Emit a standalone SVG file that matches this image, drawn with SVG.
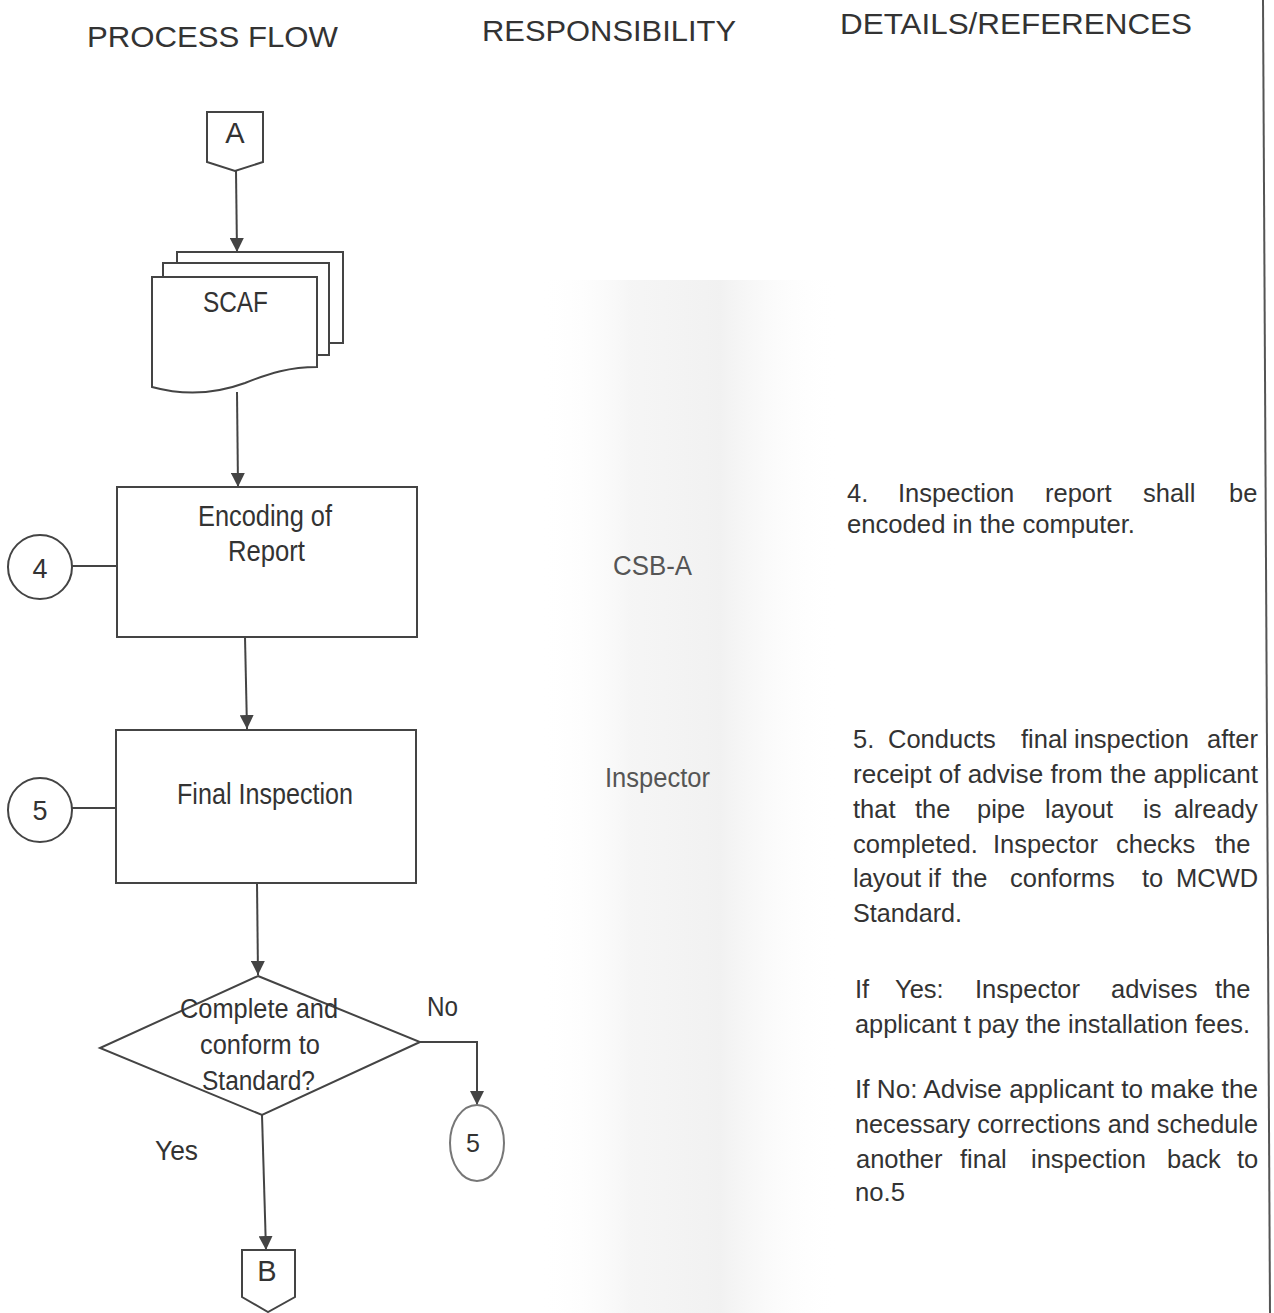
<svg xmlns="http://www.w3.org/2000/svg" width="1274" height="1313" viewBox="0 0 1274 1313">
  <defs>
    <linearGradient id="scan" x1="0" y1="0" x2="1" y2="0">
      <stop offset="0" stop-color="#ffffff" stop-opacity="0"/>
      <stop offset="0.3" stop-color="#ececec" stop-opacity="0.5"/>
      <stop offset="0.6" stop-color="#e8e8e8" stop-opacity="0.6"/>
      <stop offset="1" stop-color="#ffffff" stop-opacity="0"/>
    </linearGradient>
    <marker id="arr" markerWidth="14" markerHeight="14" refX="14" refY="7" orient="auto" markerUnits="userSpaceOnUse">
      <path d="M0,0 L14,7 L0,14 z" fill="#444"/>
    </marker>
    <style>
      .shape { fill: #ffffff; stroke: #444; stroke-width: 2; }
      .conn { fill: none; stroke: #444; stroke-width: 2; }
      .t { font-family: "Liberation Sans", Arial, sans-serif; fill: #333; }
      .hdr { font-size: 29px; }
      .lbl { font-size: 29px; }
      .mid { text-anchor: middle; }
      .body { font-size: 25.5px; }
      .resp { font-size: 27px; fill: #555; }
    </style>
  </defs>

  <rect x="0" y="0" width="1274" height="1313" fill="#ffffff"/>
  <rect x="540" y="280" width="300" height="1033" fill="url(#scan)"/>
  <line x1="1263" y1="0" x2="1270" y2="1313" stroke="#555" stroke-width="2"/>

  <!-- Headers -->
  <g id="headers">
    <text class="t hdr" x="87" y="47" textLength="251" lengthAdjust="spacingAndGlyphs">PROCESS FLOW</text>
    <text class="t hdr" x="482" y="41" textLength="254" lengthAdjust="spacingAndGlyphs">RESPONSIBILITY</text>
    <text class="t hdr" x="840" y="34" textLength="352" lengthAdjust="spacingAndGlyphs">DETAILS/REFERENCES</text>
  </g>

  <!-- Connectors -->
  <g id="connectors">
    <path class="conn" d="M236,171 L237,252" marker-end="url(#arr)"/>
    <path class="conn" d="M237,392 L238,487" marker-end="url(#arr)"/>
    <path class="conn" d="M245,637 L247,729" marker-end="url(#arr)"/>
    <path class="conn" d="M257,883 L258,975" marker-end="url(#arr)"/>
    <path class="conn" d="M420,1042 L477,1042 L477,1105" marker-end="url(#arr)"/>
    <path class="conn" d="M262,1115 L266,1250" marker-end="url(#arr)"/>
    <path class="conn" d="M72,566 L117,566"/>
    <path class="conn" d="M72,808 L116,808"/>
  </g>

  <g id="node-A">
    <path class="shape" d="M207,112 L263,112 L263,162 L235,171 L207,162 Z"/>
    <text class="t lbl mid" x="235" y="143" font-size="31">A</text>
  </g>

  <g id="node-SCAF">
    <rect class="shape" x="177" y="252" width="166" height="91"/>
    <rect class="shape" x="163" y="263" width="166" height="92"/>
    <path class="shape" d="M152,277 L317,277 L317,367 C290,367 270,373 245,383 C215,394 185,396 152,387 Z"/>
    <text class="t lbl" x="203" y="312" textLength="65" lengthAdjust="spacingAndGlyphs">SCAF</text>
  </g>

  <g id="node-encoding">
    <rect class="shape" x="117" y="487" width="300" height="150"/>
    <text class="t lbl" x="198" y="526" textLength="134" lengthAdjust="spacingAndGlyphs">Encoding of</text>
    <text class="t lbl" x="228" y="561" textLength="77" lengthAdjust="spacingAndGlyphs">Report</text>
  </g>

  <g id="node-c4">
    <circle class="shape" cx="40" cy="567" r="32"/>
    <text class="t mid" x="40" y="578" font-size="27">4</text>
  </g>

  <g id="node-final">
    <rect class="shape" x="116" y="730" width="300" height="153"/>
    <text class="t lbl" x="177" y="804" textLength="176" lengthAdjust="spacingAndGlyphs">Final Inspection</text>
  </g>

  <g id="node-c5">
    <circle class="shape" cx="40" cy="810" r="32"/>
    <text class="t mid" x="40" y="820" font-size="27">5</text>
  </g>

  <g id="node-decision">
    <path class="shape" d="M258,976 L420,1042 L262,1115 L100,1048 Z"/>
    <text class="t" font-size="27" x="180" y="1018" textLength="158" lengthAdjust="spacingAndGlyphs">Complete and</text>
    <text class="t" font-size="27" x="200" y="1054" textLength="120" lengthAdjust="spacingAndGlyphs">conform to</text>
    <text class="t" font-size="27" x="202" y="1090" textLength="113" lengthAdjust="spacingAndGlyphs">Standard?</text>
  </g>

  <g id="labels">
    <text class="t" font-size="27" x="427" y="1016" fill="#555" textLength="31" lengthAdjust="spacingAndGlyphs">No</text>
    <text class="t" font-size="27" x="155" y="1160" fill="#555" textLength="43" lengthAdjust="spacingAndGlyphs">Yes</text>
  </g>

  <g id="node-c5b">
    <ellipse cx="477" cy="1143" rx="27" ry="38" fill="#ffffff" stroke="#777" stroke-width="2"/>
    <text class="t mid" x="473" y="1152" font-size="25" fill="#666">5</text>
  </g>

  <g id="node-B">
    <path class="shape" d="M242,1250 L295,1250 L295,1297 L268,1312 L242,1297 Z"/>
    <text class="t mid" x="267" y="1281" font-size="29">B</text>
  </g>

  <!-- Responsibility -->
  <g id="responsibility">
    <text class="t resp" x="613" y="575" textLength="79" lengthAdjust="spacingAndGlyphs">CSB-A</text>
    <text class="t resp" x="605" y="787" textLength="105" lengthAdjust="spacingAndGlyphs">Inspector</text>
  </g>

  <!-- Details -->
  <g id="details" class="t body">
    <text y="502"><tspan x="847">4.</tspan><tspan x="898">Inspection</tspan><tspan x="1045">report</tspan><tspan x="1143">shall</tspan><tspan x="1229">be</tspan></text>
    <text x="847" y="533" textLength="288" lengthAdjust="spacingAndGlyphs">encoded in the computer.</text>

    <text y="748"><tspan x="853">5.</tspan><tspan x="888">Conducts</tspan><tspan x="1021">final</tspan><tspan x="1074">inspection</tspan><tspan x="1207">after</tspan></text>
    <text x="853" y="783" textLength="405" lengthAdjust="spacingAndGlyphs">receipt of advise from the applicant</text>
    <text y="818"><tspan x="853">that</tspan><tspan x="915">the</tspan><tspan x="977">pipe</tspan><tspan x="1045">layout</tspan><tspan x="1143">is</tspan><tspan x="1174">already</tspan></text>
    <text y="853"><tspan x="853">completed.</tspan><tspan x="993">Inspector</tspan><tspan x="1116">checks</tspan><tspan x="1215">the</tspan></text>
    <text y="887"><tspan x="853">layout</tspan><tspan x="928">if</tspan><tspan x="952">the</tspan><tspan x="1010">conforms</tspan><tspan x="1142">to</tspan><tspan x="1176">MCWD</tspan></text>
    <text x="853" y="922" textLength="109" lengthAdjust="spacingAndGlyphs">Standard.</text>

    <text y="998"><tspan x="855">If</tspan><tspan x="895">Yes:</tspan><tspan x="975">Inspector</tspan><tspan x="1111">advises</tspan><tspan x="1215">the</tspan></text>
    <text x="855" y="1033" textLength="395" lengthAdjust="spacingAndGlyphs">applicant t pay the installation fees.</text>

    <text x="855" y="1098" textLength="403" lengthAdjust="spacingAndGlyphs">If No: Advise applicant to make the</text>
    <text x="855" y="1133" textLength="403" lengthAdjust="spacingAndGlyphs">necessary corrections and schedule</text>
    <text y="1168"><tspan x="856">another</tspan><tspan x="960">final</tspan><tspan x="1031">inspection</tspan><tspan x="1167">back</tspan><tspan x="1237">to</tspan></text>
    <text x="855" y="1201" textLength="50" lengthAdjust="spacingAndGlyphs">no.5</text>
  </g>
</svg>
